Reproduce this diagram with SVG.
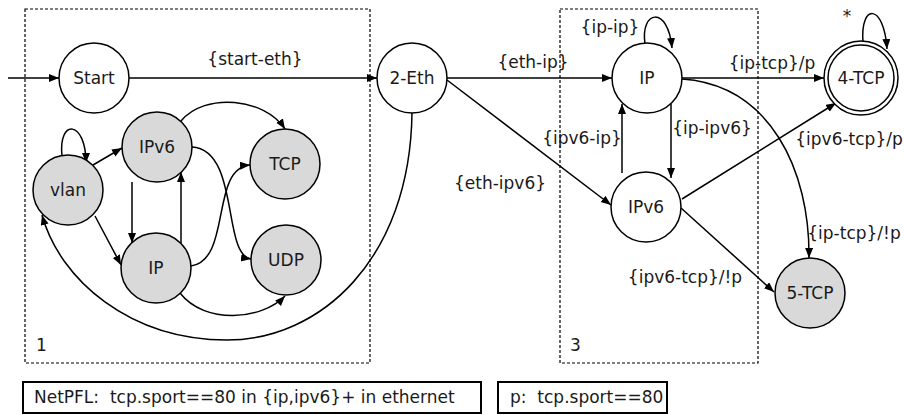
<svg xmlns="http://www.w3.org/2000/svg" width="904" height="415" viewBox="0 0 904 415">
<defs>
<marker id="ah" markerUnits="userSpaceOnUse" markerWidth="11" markerHeight="9" refX="10" refY="4" orient="auto">
<path d="M0,0 L10,4 L0,8 Z" fill="#000"/>
</marker>
<style>
text{font-family:"DejaVu Sans","Verdana",sans-serif;font-size:17px;fill:#1a1a1a}
.n{text-anchor:middle}
.pre{white-space:pre}
.w{fill:#fff;stroke:#000;stroke-width:1.5}
.g{fill:#d9d9d9;stroke:#000;stroke-width:1.5}
.box{fill:none;stroke:#000;stroke-width:1.2;stroke-dasharray:3,2}
.leg{fill:#fff;stroke:#000;stroke-width:2}
#edges path,#edges line{fill:none;stroke:#000;stroke-width:1.5;marker-end:url(#ah)}
</style>
</defs>
<rect x="0" y="0" width="904" height="415" fill="#fff"/>
<g id="cluster1"><rect class="box" x="25" y="9" width="345" height="354"/><text x="36" y="351">1</text></g>
<g id="cluster3"><rect class="box" x="560" y="9" width="198" height="354"/><text x="570" y="351">3</text></g>

<g id="edges">
<line x1="8" y1="78" x2="59" y2="78"/>
<line x1="129" y1="78" x2="377" y2="78"/>
<line x1="447" y1="78" x2="612" y2="78"/>
<line x1="447" y1="80" x2="611" y2="205"/>
<line x1="622" y1="173" x2="622" y2="104"/>
<line x1="671" y1="104" x2="671" y2="178"/>
<path d="M645,44 C640,10 668,5 672,48"/>
<line x1="682" y1="78" x2="824" y2="78"/>
<line x1="682" y1="199" x2="836" y2="103"/>
<path d="M682,79 C770,85 810,170 809,258"/>
<line x1="681" y1="208" x2="774" y2="292"/>
<path d="M863,42 C860,3 884,3 887,49"/>
<path d="M62,156 C58,118 86,120 86,163"/>
<line x1="93" y1="165" x2="122" y2="148"/>
<line x1="95" y1="216" x2="121" y2="265"/>
<line x1="132" y1="182" x2="132" y2="243"/>
<line x1="181" y1="243" x2="181" y2="172"/>
<path d="M181,121 C205,92 265,98 285,129"/>
<path d="M192,147 C240,150 222,255 251,259"/>
<path d="M191,266 C232,260 210,168 250,165"/>
<path d="M180,293 C205,325 262,320 285,296"/>
<path d="M412,113 C410,260 320,340 227,340 C130,340 60,280 42,215"/>
</g>

<g id="edge-labels">
<text class="n" x="255" y="65">{start-eth}</text>
<text class="n" x="533" y="68">{eth-ip}</text>
<text class="n" x="500" y="189">{eth-ipv6}</text>
<text class="n" x="582" y="144">{ipv6-ip}</text>
<text class="n" x="712" y="134">{ip-ipv6}</text>
<text class="n" x="610" y="33">{ip-ip}</text>
<text class="n" x="772" y="69">{ip-tcp}/p</text>
<text class="n" x="849" y="145">{ipv6-tcp}/p</text>
<text class="n" x="854" y="239">{ip-tcp}/!p</text>
<text class="n" x="685" y="283">{ipv6-tcp}/!p</text>
<text class="n" x="847" y="22">*</text>
</g>

<g id="start"><circle class="w" cx="94" cy="78" r="35"/><text class="n" x="94" y="84">Start</text></g>
<g id="eth"><circle class="w" cx="412" cy="78" r="35"/><text class="n" x="412" y="84">2-Eth</text></g>
<g id="vlan"><circle class="g" cx="68" cy="190" r="35"/><text class="n" x="68" y="196">vlan</text></g>
<g id="ipv6a"><circle class="g" cx="157" cy="147" r="35"/><text class="n" x="157" y="153">IPv6</text></g>
<g id="tcpa"><circle class="g" cx="285" cy="164" r="35"/><text class="n" x="285" y="170">TCP</text></g>
<g id="ipa"><circle class="g" cx="156" cy="268" r="35"/><text class="n" x="156" y="274">IP</text></g>
<g id="udpa"><circle class="g" cx="286" cy="260" r="35"/><text class="n" x="286" y="266">UDP</text></g>
<g id="ip"><circle class="w" cx="647" cy="78" r="35"/><text class="n" x="647" y="84">IP</text></g>
<g id="ipv6"><circle class="w" cx="646" cy="207" r="35"/><text class="n" x="646" y="213">IPv6</text></g>
<g id="tcp4"><circle class="w" cx="861" cy="78" r="37"/><circle class="w" cx="861" cy="78" r="33"/><text class="n" x="861" y="84">4-TCP</text></g>
<g id="tcp5"><circle class="g" cx="810" cy="293" r="35"/><text class="n" x="810" y="299">5-TCP</text></g>

<g id="legend1"><rect class="leg" x="23" y="382" width="458" height="31"/><text class="pre" x="34" y="403">NetPFL:  tcp.sport==80 in {ip,ipv6}+ in ethernet</text></g>
<g id="legend2"><rect class="leg" x="498" y="382" width="169" height="31"/><text class="pre" x="510" y="403">p:  tcp.sport==80</text></g>
</svg>
